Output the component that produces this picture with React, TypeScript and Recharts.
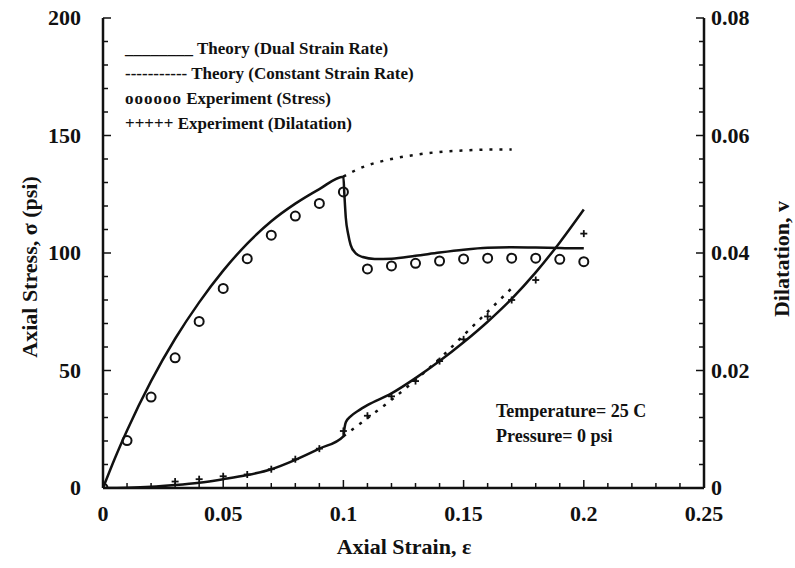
import React from 'react';
import { ComposedChart, Line, Scatter, XAxis, YAxis } from 'recharts';

// axis ticks
const strainTicks = [0, 0.05, 0.1, 0.15, 0.2, 0.25];
const strainMinor = [0.01, 0.02, 0.03, 0.04, 0.06, 0.07, 0.08, 0.09, 0.11, 0.12, 0.13, 0.14, 0.16, 0.17, 0.18, 0.19, 0.21, 0.22, 0.23, 0.24];
const stressTicks = [0, 50, 100, 150, 200];
const stressMinor = [10, 20, 30, 40, 60, 70, 80, 90, 110, 120, 130, 140, 160, 170, 180, 190];
const dilTicks = [0, 0.02, 0.04, 0.06, 0.08];
const dilMinor = [0.004, 0.008, 0.012, 0.016, 0.024, 0.028, 0.032, 0.036, 0.044, 0.048, 0.052, 0.056, 0.064, 0.068, 0.072, 0.076];

// theory, dual strain rate (stress)
const dualStressStrain = [0, 0.005, 0.01, 0.02, 0.03, 0.04, 0.05, 0.06, 0.07, 0.08, 0.09, 0.1, 0.1004, 0.101, 0.102, 0.103, 0.105, 0.108, 0.113, 0.12, 0.13, 0.14, 0.15, 0.16, 0.17, 0.18, 0.19, 0.2];
const dualStress = [0, 12.8, 24.5, 45.5, 63.5, 79, 92.5, 104, 113.5, 121, 127.2, 132.5, 125, 115, 108, 103.5, 100, 98.3, 97.5, 97.6, 98.8, 100.2, 101.4, 102.2, 102.4, 102.3, 102.1, 102];

// theory, constant strain rate (stress)
const constStressStrain = [0.1, 0.105, 0.11, 0.115, 0.12, 0.13, 0.14, 0.15, 0.16, 0.17];
const constStress = [132.5, 135.2, 137.3, 138.8, 140, 141.8, 143, 143.6, 144, 144];

// experiment (stress)
const expStressStrain = [0, 0.01, 0.02, 0.03, 0.04, 0.05, 0.06, 0.07, 0.08, 0.09, 0.1, 0.11, 0.12, 0.13, 0.14, 0.15, 0.16, 0.17, 0.18, 0.19, 0.2];
const expStress = [0, 20.2, 38.7, 55.4, 70.9, 84.9, 97.6, 107.6, 115.7, 121.1, 126, 93.2, 94.5, 95.6, 96.6, 97.5, 97.8, 97.8, 97.8, 97.3, 96.3];

// theory, dual strain rate (dilatation)
const dualDilStrain = [0, 0.01, 0.02, 0.03, 0.04, 0.05, 0.06, 0.07, 0.08, 0.09, 0.1, 0.1005, 0.101, 0.103, 0.106, 0.11, 0.12, 0.13, 0.14, 0.15, 0.16, 0.17, 0.18, 0.19, 0.2];
const dualDil = [0, 0.00005, 0.0002, 0.0005, 0.0009, 0.0015, 0.0022, 0.0032, 0.0048, 0.0067, 0.0088, 0.0103, 0.0112, 0.0122, 0.0131, 0.0141, 0.0161, 0.0187, 0.0216, 0.0248, 0.0283, 0.0322, 0.0367, 0.0418, 0.0474];

// theory, constant strain rate (dilatation)
const constDilStrain = [0.1, 0.11, 0.12, 0.13, 0.14, 0.15, 0.16, 0.17];
const constDil = [0.0088, 0.0119, 0.015, 0.0184, 0.022, 0.026, 0.03, 0.034];

// experiment (dilatation)
const expDilStrain = [0.03, 0.04, 0.05, 0.06, 0.07, 0.08, 0.09, 0.1, 0.11, 0.12, 0.13, 0.14, 0.15, 0.16, 0.17, 0.18, 0.2];
const expDil = [0.0011, 0.0015, 0.002, 0.0023, 0.0032, 0.0049, 0.0067, 0.0097, 0.0123, 0.0156, 0.0182, 0.0216, 0.0253, 0.0292, 0.032, 0.0354, 0.0433];

const legendMarks = ['________', '-----------', 'oooooo', '+++++'];
const legendLabels = [
  'Theory (Dual Strain Rate)',
  'Theory (Constant Strain Rate)',
  'Experiment (Stress)',
  'Experiment (Dilatation)',
];
const noteLines = ['Temperature= 25 C', 'Pressure= 0 psi'];

const zip = (xs: number[], ys: number[]) => xs.map((x, i) => ({ x, y: ys[i] }));

const FONT = '"Liberation Serif", "Times New Roman", serif';
const INK = '#111';
const TICK_FONT = 22;
const TITLE_FONT = 22;

const sortAll = (a: number[], b: number[]) => [...a, ...b].sort((p, q) => p - q);

const BottomTick = (props: any) => {
  const { x, y, payload } = props;
  const major = strainTicks.includes(payload.value);
  return (
    <g>
      <line x1={x} y1={y} x2={x} y2={y - (major ? 8 : 5)} stroke={INK} strokeWidth={1.5} />
      {major && (
        <text x={x} y={y + 33} textAnchor="middle" fontFamily={FONT} fontWeight="bold" fontSize={TICK_FONT} fill={INK}>
          {String(payload.value)}
        </text>
      )}
    </g>
  );
};

const TopTick = (props: any) => {
  const { x, y, payload } = props;
  const major = strainTicks.includes(payload.value);
  return <line x1={x} y1={y} x2={x} y2={y + (major ? 7 : 4)} stroke={INK} strokeWidth={1.5} />;
};

const LeftTick = (props: any) => {
  const { x, y, payload } = props;
  const major = stressTicks.includes(payload.value);
  return (
    <g>
      <line x1={x} y1={y} x2={x + (major ? 8 : 5)} y2={y} stroke={INK} strokeWidth={1.5} />
      {major && (
        <text x={x - 22} y={y + 7} textAnchor="end" fontFamily={FONT} fontWeight="bold" fontSize={TICK_FONT} fill={INK}>
          {String(payload.value)}
        </text>
      )}
    </g>
  );
};

const RightTick = (props: any) => {
  const { x, y, payload } = props;
  const major = dilTicks.includes(payload.value);
  return (
    <g>
      <line x1={x} y1={y} x2={x - (major ? 8 : 5)} y2={y} stroke={INK} strokeWidth={1.5} />
      {major && (
        <text x={x + 7} y={y + 7} textAnchor="start" fontFamily={FONT} fontWeight="bold" fontSize={TICK_FONT} fill={INK}>
          {String(payload.value)}
        </text>
      )}
    </g>
  );
};

const OpenCircle = (props: any) => {
  const { cx, cy } = props;
  return <circle cx={cx} cy={cy} r={4.5} fill="none" stroke={INK} strokeWidth={2} />;
};

const Cross = (props: any) => {
  const { cx, cy } = props;
  return (
    <g stroke={INK} strokeWidth={1.8}>
      <line x1={cx - 3.5} y1={cy} x2={cx + 3.5} y2={cy} />
      <line x1={cx} y1={cy - 3.5} x2={cx} y2={cy + 3.5} />
    </g>
  );
};

const titleStyle = { fontFamily: FONT, fontWeight: 'bold', fontSize: TITLE_FONT, fill: INK, textAnchor: 'middle' } as const;

export default function App() {
  return (
    <div style={{ position: 'absolute', left: 0, top: 0, width: 795, height: 568, background: '#fff' }}>
      <ComposedChart width={795} height={568} margin={{ top: 18, right: 0, bottom: 0, left: 0 }}>
        <XAxis
          xAxisId="main"
          dataKey="x"
          type="number"
          domain={[0, 0.25]}
          allowDataOverflow
          ticks={sortAll(strainTicks, strainMinor)}
          interval={0}
          tick={<BottomTick />}
          tickLine={false}
          tickSize={0}
          tickMargin={0}
          height={80}
          axisLine={{ stroke: INK, strokeWidth: 2.5 }}
        />
        <XAxis
          xAxisId="top"
          orientation="top"
          dataKey="x"
          type="number"
          domain={[0, 0.25]}
          allowDataOverflow
          ticks={sortAll(strainTicks, strainMinor)}
          interval={0}
          tick={<TopTick />}
          tickLine={false}
          tickSize={0}
          tickMargin={0}
          height={0}
          axisLine={{ stroke: INK, strokeWidth: 2.5 }}
        />
        <YAxis
          yAxisId="stress"
          type="number"
          domain={[0, 200]}
          allowDataOverflow
          ticks={sortAll(stressTicks, stressMinor)}
          interval={0}
          tick={<LeftTick />}
          tickLine={false}
          tickSize={0}
          tickMargin={0}
          width={103}
          axisLine={{ stroke: INK, strokeWidth: 2.5 }}
          label={{
            value: 'Axial Stress, σ (psi)',
            angle: -90,
            position: 'insideLeft',
            offset: 29,
            dy: 14,
            style: titleStyle,
          }}
        />
        <YAxis
          yAxisId="dil"
          orientation="right"
          type="number"
          domain={[0, 0.08]}
          allowDataOverflow
          ticks={sortAll(dilTicks, dilMinor)}
          interval={0}
          tick={<RightTick />}
          tickLine={false}
          tickSize={0}
          tickMargin={0}
          width={91}
          axisLine={{ stroke: INK, strokeWidth: 2.5 }}
          label={{
            value: 'Dilatation, v',
            angle: -90,
            position: 'insideRight',
            offset: 14,
            dy: 6,
            style: titleStyle,
          }}
        />

        <Line
          xAxisId="main"
          yAxisId="stress"
          data={zip(constStressStrain, constStress)}
          dataKey="y"
          type="monotone"
          stroke={INK}
          strokeWidth={2.5}
          strokeDasharray="3 7"
          dot={false}
          isAnimationActive={false}
        />
        <Line
          xAxisId="main"
          yAxisId="dil"
          data={zip(constDilStrain, constDil)}
          dataKey="y"
          type="monotone"
          stroke={INK}
          strokeWidth={2.5}
          strokeDasharray="3 7"
          dot={false}
          isAnimationActive={false}
        />
        <Line
          xAxisId="main"
          yAxisId="stress"
          data={zip(dualStressStrain, dualStress)}
          dataKey="y"
          type="monotone"
          stroke={INK}
          strokeWidth={2.5}
          dot={false}
          isAnimationActive={false}
        />
        <Line
          xAxisId="main"
          yAxisId="dil"
          data={zip(dualDilStrain, dualDil)}
          dataKey="y"
          type="monotone"
          stroke={INK}
          strokeWidth={2.5}
          dot={false}
          isAnimationActive={false}
        />
        <Scatter
          xAxisId="main"
          yAxisId="stress"
          data={zip(expStressStrain, expStress)}
          dataKey="y"
          shape={<OpenCircle />}
          isAnimationActive={false}
        />
        <Scatter
          xAxisId="main"
          yAxisId="dil"
          data={zip(expDilStrain, expDil)}
          dataKey="y"
          shape={<Cross />}
          isAnimationActive={false}
        />
      </ComposedChart>

      <div
        style={{
          position: 'absolute',
          left: 404,
          top: 534,
          transform: 'translateX(-50%)',
          fontFamily: FONT,
          fontWeight: 'bold',
          fontSize: TITLE_FONT,
          color: INK,
          whiteSpace: 'nowrap',
        }}
      >
        Axial Strain, ε
      </div>

      <div style={{ position: 'absolute', left: 125, top: 36, fontFamily: FONT, fontWeight: 'bold', fontSize: 17, lineHeight: '25px', color: INK, whiteSpace: 'pre' }}>
        {legendLabels.map((t, i) => (
          <div key={t}>
            <span style={{ letterSpacing: i === 2 ? 1 : 0 }}>{legendMarks[i]}</span> {t}
          </div>
        ))}
      </div>

      <div style={{ position: 'absolute', left: 496, top: 399, fontFamily: FONT, fontWeight: 'bold', fontSize: 18, lineHeight: '25px', color: INK, whiteSpace: 'pre' }}>
        {noteLines.map((t) => (
          <div key={t}>{t}</div>
        ))}
      </div>
    </div>
  );
}
